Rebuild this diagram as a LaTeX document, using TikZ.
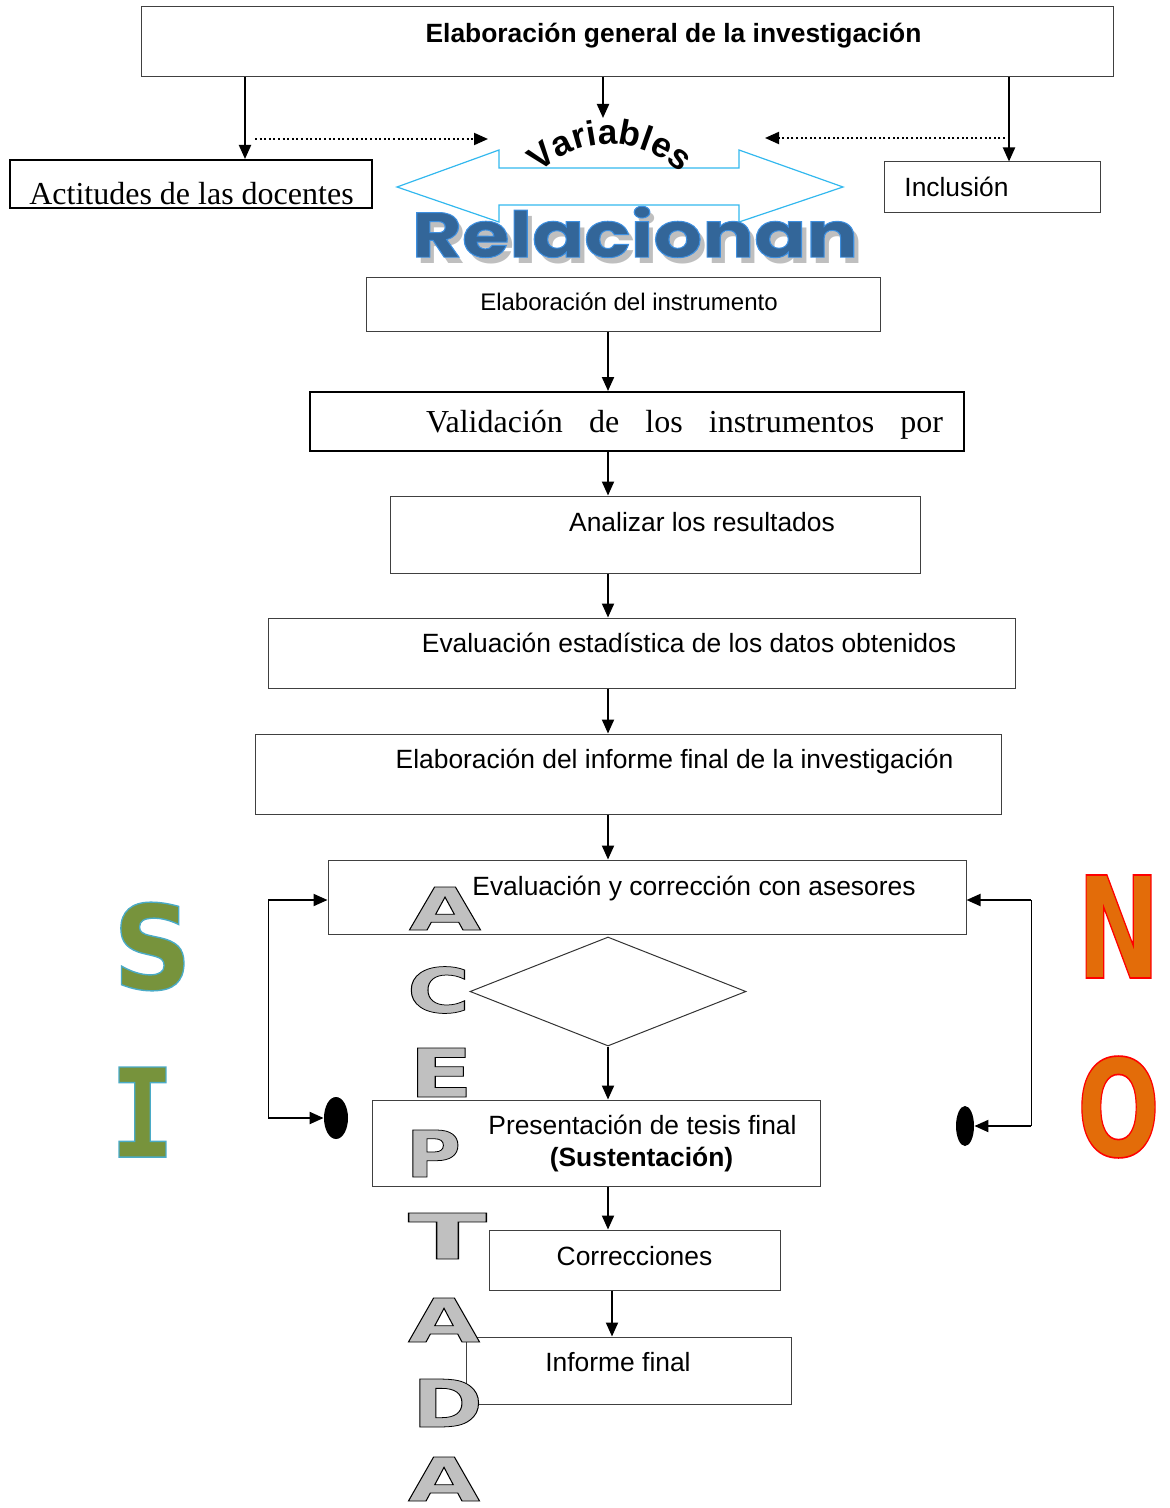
\documentclass[tikz,border=0pt]{standalone}
\usepackage{fontspec}
\setmainfont{Liberation Sans}
\newfontfamily\timesfont{Liberation Serif}
\newfontfamily\relfont{Poppins}
\newfontfamily\letterfont{DejaVu Sans}
\newfontfamily\letterfontmono{DejaVu Sans Mono}
\usetikzlibrary{arrows.meta,shapes.geometric,decorations.text}

\definecolor{relblue}{HTML}{336699}
\definecolor{shadowgray}{HTML}{BFBFBF}
\definecolor{arrowcyan}{HTML}{33B8EE}
\definecolor{sigreen}{HTML}{77933C}
\definecolor{noorange}{HTML}{E36C09}
\definecolor{lettergray}{HTML}{C0C0C0}

% filled glyphs with a stroked outline: stroke width, stroke rgb, fill colour, text
\newcommand{\strokedtext}[4]{\textcolor{#3}{\special{pdf:literal 2 Tr #1 w #2 RG}#4\special{pdf:literal 0 Tr}}}
% big letter: width, height, stroke rgb, fill colour, text
\newcommand{\bigglyph}[5]{\resizebox{#1}{#2}{\strokedtext{0.12}{#3}{#4}{#5}}}

\tikzset{
    box/.style={draw=black!75, line width=0.5pt, rectangle, inner sep=0pt},
    thickbox/.style={draw=black, line width=1pt, rectangle, inner sep=0pt},
    flow/.style={line width=1pt, -{Triangle[length=7pt,width=6pt]}},
    dotflow/.style={line width=1pt, dash pattern=on 1pt off 1.3pt, -{Triangle[length=7pt,width=6pt]}},
    loopline/.style={line width=0.5pt},
    txt/.style={anchor=base, inner sep=0pt, font=\fontsize{13.2}{15.8}\selectfont},
    serif/.style={anchor=base, inner sep=0pt, font=\timesfont\fontsize{16}{19}\selectfont},
    glyph/.style={inner sep=0pt},
    blackdot/.style={ellipse, fill=black, inner sep=0pt}
}

\begin{document}
\begin{tikzpicture}[x=0.5pt, y=-0.5pt]
        \useasboundingbox (0,0) rectangle (1170,1508);

        %general elaboration box
        \node[box, minimum width=486pt, minimum height=35pt] (btop) at (627,42) {};
        \node[txt, font=\fontsize{13.2}{15.8}\selectfont\bfseries] (ttop) at (673.5,42.5) {Elaboración general de la investigación};

        %the two variables
        \node[thickbox, minimum width=181pt, minimum height=24pt] (bact) at (191,184) {};
        \node[serif] (tact) at (191.5,205) {Actitudes de las docentes};
        \node[box, minimum width=108pt, minimum height=25.5pt] (binc) at (992,187.5) {};
        \node[txt] (tinc) at (956.5,196.5) {Inclusión};

        %arrows from the top box
        \coordinate (xact) at (245,0);
        \coordinate (xinc) at (1009,0);
        \coordinate (vartop) at (603,118);
        \draw[flow] (btop.south -| xact) -- (bact.north -| xact);
        \draw[flow] (btop.south -| vartop) -- (vartop);
        \draw[flow] (btop.south -| xinc) -- (binc.north -| xinc);

        %dotted arrows towards the relation
        \coordinate (dotLs) at (255,139);
        \coordinate (dotLe) at (488,139);
        \coordinate (dotRs) at (1005,138);
        \coordinate (dotRe) at (765,138);
        \draw[dotflow] (dotLs) -- (dotLe);
        \draw[dotflow] (dotRs) -- (dotRe);

        %double arrow of the relation
        \draw[arrowcyan, line width=0.6pt] (397,187) -- (499,150) -- (499,168) -- (739,168) -- (739,150)
            -- (843,187) -- (739,222) -- (739,205) -- (499,205) -- (499,222) -- cycle;

        %curved word Variables
        \path[decorate, decoration={text along path, text align=center,
            text={|\fontsize{17.5}{17.5}\selectfont\bfseries|Variables}}]
            (539.3,173.3) arc[start angle=225, end angle=315, radius=100];

        %word Relacionan with shadow
        \node[glyph, text=shadowgray] (relshadow) at (640,238) {\resizebox{223pt}{25.5pt}{\relfont\bfseries Relacionan}};
        \node[glyph] (rel) at (635,232) {\resizebox{223pt}{25.5pt}{\relfont\bfseries\strokedtext{0.15}{0.24 0.56 0.88}{relblue}{Relacionan}}};

        %chain of steps
        \coordinate (axis) at (608,0);
        \node[box, minimum width=257pt, minimum height=27pt] (binst) at (623,305) {};
        \node[txt, font=\fontsize{12}{14.4}\selectfont] (tinst) at (629,310.5) {Elaboración del instrumento};

        \node[thickbox, minimum width=327pt, minimum height=29.5pt] (bval) at (637,421.5) {};
        \node[serif] (tval) at (684.5,432) {\makebox[258.5pt][s]{Validación de los instrumentos por}};

        \node[box, minimum width=265pt, minimum height=38.5pt] (bana) at (655,534.5) {};
        \node[txt] (tana) at (702,531) {Analizar los resultados};

        \node[box, minimum width=373.5pt, minimum height=35pt] (best) at (641.5,653) {};
        \node[txt] (test) at (689,652.5) {Evaluación estadística de los datos obtenidos};

        \node[box, minimum width=373pt, minimum height=40pt] (binf) at (628,774) {};
        \node[txt] (tinf) at (674.5,768.5) {Elaboración del informe final de la investigación};

        \node[box, minimum width=319pt, minimum height=37pt] (beva) at (647,897) {};
        \node[txt] (teva) at (694,895.5) {Evaluación y corrección con asesores};

        \node[diamond, draw=black!80, line width=0.5pt, inner sep=0pt, minimum width=138pt, minimum height=54.5pt] (dec) at (608,991.5) {};

        \node[box, minimum width=224pt, minimum height=43pt] (bpre) at (596,1143) {};
        \node[txt] (tpre) at (642.5,1134) {Presentación de tesis final};
        \node[txt, font=\fontsize{13.2}{15.8}\selectfont\bfseries] (tsus) at (641.5,1166) {(Sustentación)};

        \node[box, minimum width=145.5pt, minimum height=30pt] (bcor) at (634.5,1260) {};
        \node[txt] (tcor) at (634.5,1265.5) {Correcciones};

        \node[box, minimum width=162.5pt, minimum height=33.5pt] (bfin) at (628.5,1370.5) {};
        \node[txt] (tfin) at (618,1371.5) {Informe final};

        %connecting arrows down the chain
        \coordinate (xfin) at (612,0);
        \draw[flow] (binst.south -| axis) -- (bval.north -| axis);
        \draw[flow] (bval.south -| axis) -- (bana.north -| axis);
        \draw[flow] (bana.south -| axis) -- (best.north -| axis);
        \draw[flow] (best.south -| axis) -- (binf.north -| axis);
        \draw[flow] (binf.south -| axis) -- (beva.north -| axis);
        \draw[flow] (dec.south) -- (bpre.north -| dec.south);
        \draw[flow] (bpre.south -| axis) -- (bcor.north -| axis);
        \draw[flow] (bcor.south -| xfin) -- (bfin.north -| xfin);

        %loop on the left (SI)
        \node[blackdot, minimum width=12pt, minimum height=21pt] (dotL) at (336,1118) {};
        \coordinate (loopL) at (268,1118);
        \coordinate (entL) at (268,900);
        \draw[loopline] (loopL) -- (entL);
        \draw[flow] (entL) -- (entL -| beva.west);
        \draw[flow] (loopL) -- (dotL.west);

        %loop on the right (NO)
        \node[blackdot, minimum width=9pt, minimum height=20pt] (dotR) at (965,1126) {};
        \coordinate (loopR) at (1031,1126);
        \coordinate (entR) at (1031,900);
        \draw[loopline] (loopR) -- (entR);
        \draw[flow] (entR) -- (entR -| beva.east);
        \draw[flow] (loopR) -- (dotR.east);

        %big letters SI and NO
        \node[glyph] (ls) at (152.5,946.5) {\bigglyph{39.5pt}{43.5pt}{0.29 0.67 0.78}{sigreen}{\letterfont\bfseries S}};
        \node[glyph] (li) at (142.5,1112) {\bigglyph{32.5pt}{45pt}{0.29 0.67 0.78}{sigreen}{\letterfontmono\bfseries I}};
        \node[glyph] (ln) at (1118.5,926.5) {\bigglyph{41.5pt}{51.5pt}{1 0 0}{noorange}{\letterfont\bfseries N}};
        \node[glyph] (lo) at (1118.5,1107) {\bigglyph{41.5pt}{50pt}{1 0 0}{noorange}{\letterfont\bfseries O}};

        %vertical word ACEPTADA
        \node[glyph] (la1) at (445,908.5) {\bigglyph{36pt}{21.5pt}{0 0 0}{lettergray}{\letterfont\bfseries A}};
        \node[glyph] (lc) at (438.5,990) {\bigglyph{31.5pt}{23pt}{0 0 0}{lettergray}{\letterfont\bfseries C}};
        \node[glyph] (le) at (441,1072.5) {\bigglyph{32pt}{24.5pt}{0 0 0}{lettergray}{\letterfont\bfseries E}};
        \node[glyph] (lp) at (433.5,1153.5) {\bigglyph{27.5pt}{23.5pt}{0 0 0}{lettergray}{\letterfont\bfseries P}};
        \node[glyph] (lt) at (447.5,1236) {\bigglyph{39.5pt}{23pt}{0 0 0}{lettergray}{\letterfont\bfseries T}};
        \node[glyph] (la2) at (444,1320) {\bigglyph{36pt}{22pt}{0 0 0}{lettergray}{\letterfont\bfseries A}};
        \node[glyph] (ld) at (447.5,1403) {\bigglyph{35.5pt}{24pt}{0 0 0}{lettergray}{\letterfont\bfseries D}};
        \node[glyph] (la3) at (444,1479) {\bigglyph{36pt}{22pt}{0 0 0}{lettergray}{\letterfont\bfseries A}};

\end{tikzpicture}
\end{document}
